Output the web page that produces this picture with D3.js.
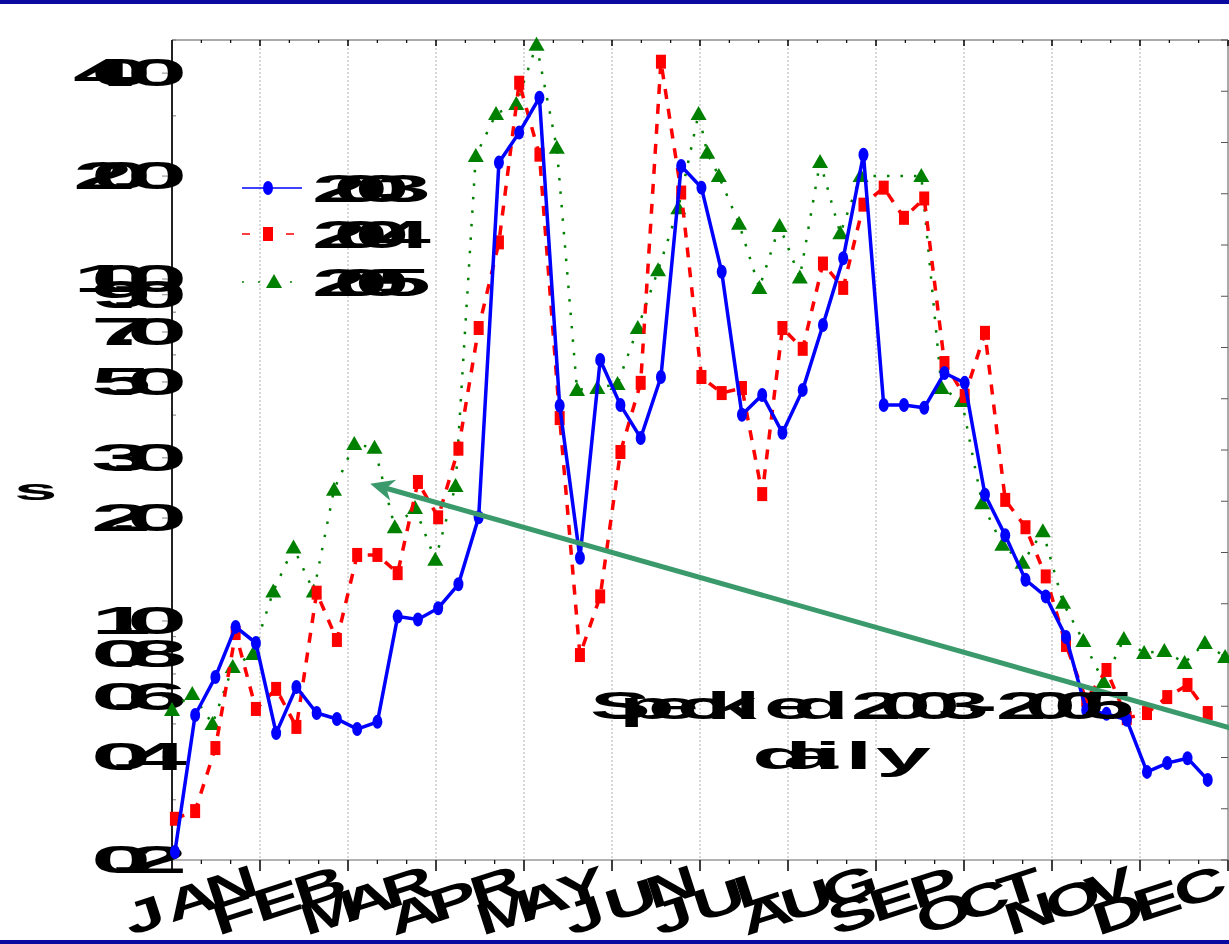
<!DOCTYPE html>
<html>
<head>
<meta charset="utf-8">
<script src="https://cdn.jsdelivr.net/npm/d3@7"></script>
<style>
  html, body { margin: 0; padding: 0; background: #fff; }
  svg { display: block; }
  text { font-family: "Liberation Sans", Arial, "DejaVu Sans", sans-serif; font-weight: bold; fill: #000; }
</style>
</head>
<body>
<svg id="chart" width="1229" height="944"></svg>
<script>
// ---- data -------------------------------------------------------------
const monthLabels = ["JAN", "FEB", "MAR", "APR", "MAY", "JUN", "JUL", "AUG", "SEP", "OCT", "NOV", "DEC"];
const yTickValues = [0.2, 0.4, 0.6, 0.8, 1, 2, 3, 5, 7, 9, 10, 20, 40];
const seriesNames = ["2003", "2004", "2005"];

// day of year of each weekly sample
const days2003 = d3.range(1, 359, 7);
const days2004 = d3.range(1, 359, 7);
const days2005 = [0, 7, 14, 21, 28, 35, 42, 49, 56, 63, 70, 77, 84, 91, 98, 105, 112, 119, 126, 133,
  140, 147, 154, 161, 168, 175, 182, 185, 189, 196, 203, 210, 217, 224, 231, 238,
  259, 266, 273, 280, 287, 294, 301, 308, 315, 322, 329, 336, 343, 350, 357, 364];

const values2003 = [0.211, 0.531, 0.686, 0.961, 0.862, 0.470, 0.641, 0.538, 0.517, 0.483,
  0.507, 1.03, 1.01, 1.09, 1.28, 2.01, 21.9, 26.8, 33.9, 4.26,
  1.53, 5.80, 4.28, 3.43, 5.17, 21.4, 18.5, 10.5, 4.01, 4.58,
  3.55, 4.74, 7.34, 11.5, 23.1, 4.28, 4.28, 4.20, 5.31, 4.97,
  2.34, 1.78, 1.32, 1.18, 0.898, 0.549, 0.535, 0.514, 0.362, 0.384,
  0.397, 0.343];
const values2004 = [0.264, 0.278, 0.425, 0.922, 0.553, 0.633, 0.490, 1.21, 0.880, 1.56,
  1.56, 1.38, 2.55, 2.01, 3.19, 7.19, 12.8, 37.5, 23.1, 3.92,
  0.795, 1.18, 3.12, 4.97, 43.2, 17.9, 5.17, 4.64, 4.80, 2.35,
  7.19, 6.25, 11.1, 9.42, 16.5, 18.5, 15.1, 17.2, 5.68, 4.55,
  6.96, 2.26, 1.88, 1.35, 0.851, 0.588, 0.719, 0.520, 0.538, 0.599,
  0.650, 0.538];
const values2005 = [0.549, 0.612, 0.500, 0.734, 0.801, 1.22, 1.64, 1.22, 2.42, 3.29,
  3.21, 1.88, 2.14, 1.51, 2.48, 22.9, 30.4, 32.5, 48.4, 24.2,
  4.74, 4.80, 4.93, 7.19, 10.6, 16.1, 30.4, 23.4, 20.0, 14.5,
  9.42, 14.3, 10.1, 22.0, 13.6, 20.0, 20.0, 4.80, 4.40, 2.21,
  1.67, 1.48, 1.83, 1.13, 0.874, 0.663, 0.886, 0.806, 0.817, 0.754,
  0.862, 0.785];

// trend arrow: [day, value] of tail and head
const arrowTail = [372, 0.47];
const arrowHead = [68.5, 2.52];

const titleLines = ["Speckled 2003-2005", "daily"];
const yAxisTitle = "s";

// ---- layout -------------------------------------------------------------
const W = 1229, H = 944;
const plot = { left: 172, right: 1228, top: 40, bottom: 860 };

const svg = d3.select("#chart");

const x = d3.scaleLinear().domain([0, 365]).range([plot.left, plot.right]);
const y = d3.scaleLog().domain([0.2, 50]).range([plot.bottom, plot.top]);
const yRight = d3.scaleLinear().domain([0, 80]).range([plot.bottom, plot.top]);

const monthStep = 365 / 12;
const monthTicks = d3.range(0, 13).map(i => i * monthStep);
const minorX = d3.range(0, 37).map(i => i * monthStep / 3).filter((d, i) => i % 3 !== 0);

// Wide lettering set on a tight, fixed pitch: every glyph is stretched by sx
// and placed `adv` px after the previous one, so neighbours overlap.
function wideText(parent, str, px, py, o) {
  const chars = Array.from(str);
  const total = (chars.length - 1) * o.adv + o.glyphW;
  const off = o.anchor === "end" ? -total : (o.anchor === "middle" ? -total / 2 : 0);
  const xs = chars.map((c, i) => ((off + i * o.adv) / o.sx).toFixed(2)).join(" ");
  return parent.append("text")
    .attr("transform", `translate(${px},${py}) rotate(${o.rotate || 0}) scale(${o.sx},1)`)
    .attr("x", xs)
    .style("font-size", o.size + "px")
    .text(str);
}

// page bars
svg.append("rect").attr("x", 0).attr("y", 0).attr("width", W).attr("height", 4).attr("fill", "#0a0aa0");
svg.append("rect").attr("x", 0).attr("y", H - 4).attr("width", W).attr("height", 4).attr("fill", "#0a0aa0");

// vertical month grid
svg.append("g").selectAll("line").data(monthTicks.slice(1, 12)).join("line")
  .attr("x1", d => x(d)).attr("x2", d => x(d))
  .attr("y1", plot.top).attr("y2", plot.bottom)
  .attr("stroke", "#b0b0b0").attr("stroke-width", 1).attr("stroke-dasharray", "2,2");

// frame
svg.append("line").attr("x1", plot.left).attr("x2", plot.right).attr("y1", plot.top).attr("y2", plot.top)
  .attr("stroke", "#555").attr("stroke-width", 1);
svg.append("line").attr("x1", plot.left).attr("x2", plot.right).attr("y1", plot.bottom).attr("y2", plot.bottom)
  .attr("stroke", "#999").attr("stroke-width", 1.5);
svg.append("line").attr("x1", plot.right).attr("x2", plot.right).attr("y1", plot.top).attr("y2", plot.bottom)
  .attr("stroke", "#555").attr("stroke-width", 1);

// bottom axis ticks (outside) and top ticks (inside)
const tickG = svg.append("g").attr("stroke", "#000");
tickG.selectAll(".xb").data(monthTicks).join("line")
  .attr("x1", d => x(d)).attr("x2", d => x(d)).attr("y1", plot.bottom).attr("y2", plot.bottom + 11)
  .attr("stroke-width", 1.5);
tickG.selectAll(".xbm").data(minorX).join("line")
  .attr("x1", d => x(d)).attr("x2", d => x(d)).attr("y1", plot.bottom).attr("y2", plot.bottom + 4)
  .attr("stroke-width", 1.2);
tickG.selectAll(".xt").data(monthTicks).join("line")
  .attr("x1", d => x(d)).attr("x2", d => x(d)).attr("y1", plot.top).attr("y2", plot.top + 6)
  .attr("stroke-width", 1.5);
tickG.selectAll(".xtm").data(minorX).join("line")
  .attr("x1", d => x(d)).attr("x2", d => x(d)).attr("y1", plot.top).attr("y2", plot.top + 3)
  .attr("stroke-width", 1.2);

// right axis ticks
svg.append("g").selectAll("line").data(d3.range(0, 81, 5)).join("line")
  .attr("x1", plot.right - 7).attr("x2", plot.right)
  .attr("y1", d => yRight(d)).attr("y2", d => yRight(d))
  .attr("stroke", "#555").attr("stroke-width", 1);

// left axis
const minorY = [];
[0.1, 1, 10].forEach(dec => d3.range(1, 10).forEach(m => {
  const v = +(dec * m).toPrecision(3);
  if (v >= 0.2 && v <= 50 && !yTickValues.includes(v)) minorY.push(v);
}));
svg.append("g").selectAll("line").data(minorY).join("line")
  .attr("x1", plot.left).attr("x2", plot.left + 4)
  .attr("y1", d => y(d)).attr("y2", d => y(d))
  .attr("stroke", "#777").attr("stroke-width", 1);
svg.append("g").selectAll("line").data(yTickValues).join("line")
  .attr("x1", plot.left - 10).attr("x2", plot.left)
  .attr("y1", d => y(d)).attr("y2", d => y(d))
  .attr("stroke", "#999").attr("stroke-width", 1.2);
svg.append("line").attr("x1", plot.left).attr("x2", plot.left).attr("y1", plot.top).attr("y2", plot.bottom + 11)
  .attr("stroke", "#222").attr("stroke-width", 2);

// y tick labels
const fmt = d3.format(".1f");
const yLab = svg.append("g");
yTickValues.forEach(v => {
  wideText(yLab, fmt(v), 182, y(v) + 13, { size: 38, sx: 2.85, adv: 18, glyphW: 55, anchor: "end" });
});

// x tick labels
const xLab = svg.append("g");
monthLabels.forEach((m, i) => {
  wideText(xLab, m, x(i * monthStep) - 42, 936, { size: 45, sx: 1.6, adv: 43, glyphW: 52, anchor: "start", rotate: -18 });
});

// y axis title
wideText(svg, yAxisTitle, 14, 500, { size: 30, sx: 2.6, adv: 20, glyphW: 44, anchor: "start" });

// ---- series -----------------------------------------------------------
const series = [
  { name: seriesNames[0], days: days2003, values: values2003, color: "#0000ff", width: 3.5, dash: null, marker: "ellipse" },
  { name: seriesNames[1], days: days2004, values: values2004, color: "#ff0000", width: 3.5, dash: "10,10", marker: "square" },
  { name: seriesNames[2], days: days2005, values: values2005, color: "#008000", width: 2.5, dash: "2.5,11", marker: "triangle" }
];

const line = d3.line().x(d => x(d[0])).y(d => y(d[1]));

function drawMarker(g, kind, cx, cy, color) {
  if (kind === "ellipse") {
    g.append("ellipse").attr("cx", cx).attr("cy", cy).attr("rx", 5).attr("ry", 7).attr("fill", color);
  } else if (kind === "square") {
    g.append("rect").attr("x", cx - 5).attr("y", cy - 7).attr("width", 10).attr("height", 14).attr("fill", color);
  } else {
    g.append("path").attr("d", `M${cx},${cy - 8}L${cx + 8},${cy + 6}L${cx - 8},${cy + 6}Z`).attr("fill", color);
  }
}

// draw back-to-front: 2005, 2004, 2003
[...series].reverse().forEach(s => {
  const pts = s.days.map((d, i) => [d, s.values[i]]);
  const g = svg.append("g");
  g.append("path").attr("d", line(pts)).attr("fill", "none")
    .attr("stroke", s.color).attr("stroke-width", s.width)
    .attr("stroke-dasharray", s.dash);
  pts.forEach(p => drawMarker(g, s.marker, x(p[0]), y(p[1]), s.color));
});

// ---- legend -------------------------------------------------------------
const legendRows = [188, 234, 282];
const lg = svg.append("g");
series.forEach((s, i) => {
  const ly = legendRows[i];
  lg.append("line").attr("x1", 242).attr("x2", 302).attr("y1", ly).attr("y2", ly)
    .attr("stroke", s.color).attr("stroke-width", 1.5)
    .attr("stroke-dasharray", s.marker === "ellipse" ? null : (s.marker === "square" ? "8,14" : "2,14"));
  drawMarker(lg, s.marker, s.marker === "triangle" ? 274 : 268, ly, s.color);
  wideText(lg, s.name, 312, ly + 14, { size: 39, sx: 2.5, adv: 21.5, glyphW: 50, anchor: "start" });
});

// ---- trend arrow ------------------------------------------------------------
const ax0 = x(arrowTail[0]), ay0 = y(arrowTail[1]);
const ax1 = x(arrowHead[0]), ay1 = y(arrowHead[1]);
const ang = Math.atan2(ay1 - ay0, ax1 - ax0);
const headLen = 24, headW = 11;
const bx = ax1 - headLen * Math.cos(ang), by = ay1 - headLen * Math.sin(ang);
const nx = -Math.sin(ang), ny = Math.cos(ang);
const arrowColor = "#3a9a6b";
svg.append("line").attr("x1", ax0).attr("y1", ay0)
  .attr("x2", ax1 - 12 * Math.cos(ang)).attr("y2", ay1 - 12 * Math.sin(ang))
  .attr("stroke", arrowColor).attr("stroke-width", 5);
const notch = [ax1 - 0.7 * headLen * Math.cos(ang), ay1 - 0.7 * headLen * Math.sin(ang)];
svg.append("path")
  .attr("d", `M${ax1},${ay1}L${bx + nx * headW},${by + ny * headW}L${notch[0]},${notch[1]}L${bx - nx * headW},${by - ny * headW}Z`)
  .attr("fill", arrowColor);

// ---- annotation --------------------------------------------------------------
wideText(svg, titleLines[0], 590, 719, { size: 38, sx: 2.4, adv: 29, glyphW: 50, anchor: "start" });
wideText(svg, titleLines[1], 752, 769, { size: 38, sx: 2.6, adv: 31, glyphW: 52, anchor: "start" });
</script>
</body>
</html>
